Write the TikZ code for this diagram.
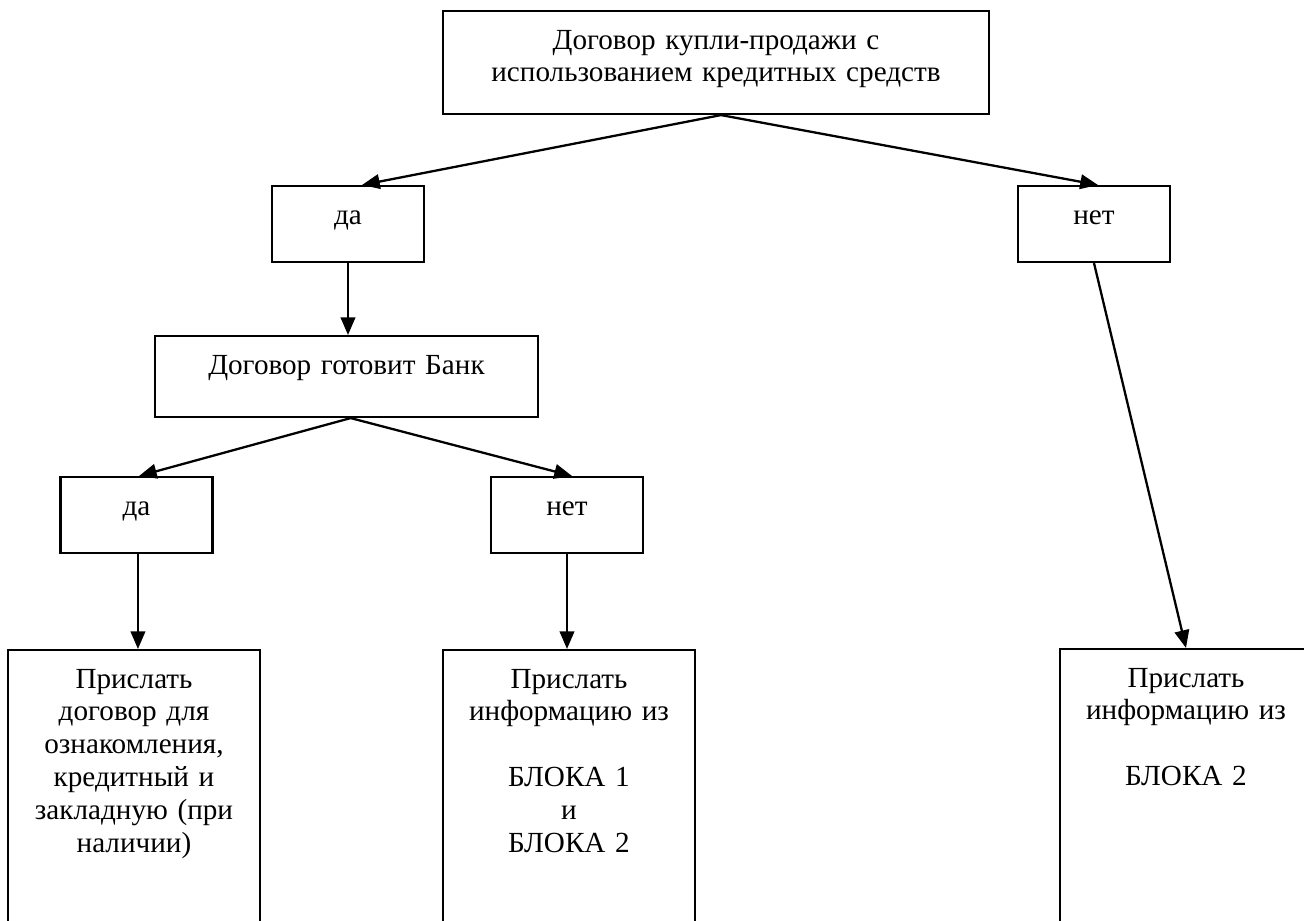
\documentclass[tikz,border=0pt]{standalone}
\usepackage{fontspec}
\setmainfont{Liberation Serif}
\usetikzlibrary{arrows.meta}

\begin{document}
\begin{tikzpicture}[x=0.48pt, y=-0.48pt,
		font=\fontsize{14}{15.8}\selectfont,
		box/.style={draw, line width=1pt, align=center, inner sep=0pt, anchor=north, text height=18.24pt},
		small/.style={box, text width=72.96pt, text depth=18.24pt},
		tall/.style={box, text width=120.96pt, text depth=200pt},
		link/.style={line width=1.1pt, -{Triangle[length=8.5pt, width=7pt]}}]
		\clip (0,0) rectangle (1304,921);
		\node[box, text width=262.08pt, text depth=31.2pt] (contract) at (716,10) {Договор купли-продажи с\\использованием кредитных средств};
		\node[small] (yes_credit) at (348,185) {да};
		\node[small] (no_credit) at (1094,185) {нет};
		\node[box, text width=183.84pt, text depth=20.64pt] (bank) at (346.5,335) {Договор готовит Банк};
		\node[small] (yes_bank) at (136.5,476) {да};
		\node[small] (no_bank) at (567,476) {нет};
		\node[tall] (send_contract) at (134,649) {Прислать\\договор для\\ознакомления,\\кредитный и\\закладную (при\\наличии)};
		\node[tall] (send_both) at (569,649) {Прислать\\информацию из\\[15.8pt]БЛОКА 1\\и\\БЛОКА 2};
		\node[tall] (send_two) at (1186,648) {Прислать\\информацию из\\[15.8pt]БЛОКА 2};
		\draw[link] ([xshift=2.4pt]contract.south) -- ([xshift=6.72pt]yes_credit.north);
		\draw[link] ([xshift=2.4pt]contract.south) -- ([xshift=1.9pt]no_credit.north);
		\draw[link] (yes_credit.south) -- (yes_credit.south |- bank.north);
		\draw[link] ([xshift=2pt]bank.south) -- ([xshift=1.2pt]yes_bank.north);
		\draw[link] ([xshift=2pt]bank.south) -- ([xshift=2.4pt]no_bank.north);
		\draw[link] ([xshift=0.7pt]yes_bank.south) -- ([xshift=0.7pt]yes_bank.south |- send_contract.north);
		\draw[link] (no_bank.south) -- (no_bank.south |- send_both.north);
		\draw[link] (no_credit.south) -- (send_two.north);
	\end{tikzpicture}
\end{document}
